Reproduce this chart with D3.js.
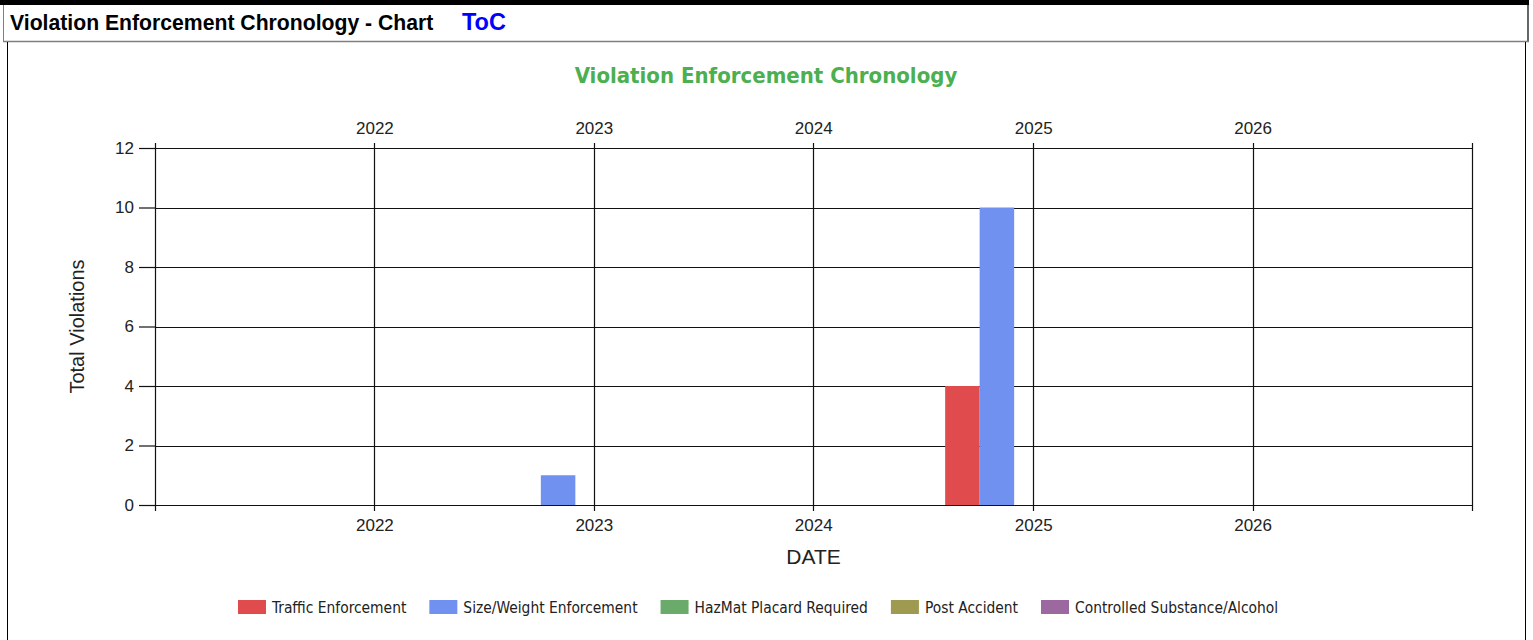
<!DOCTYPE html>
<html>
<head>
<meta charset="utf-8">
<script src="https://cdn.jsdelivr.net/npm/d3@7"></script>
<style>
  body { margin: 0; background: white; }
  svg { display: block; }
</style>
</head>
<body>
<div id="chart"></div>
<script>
// Chart data
const groupDates = ["2022-12-30", "2024-12-29"];
const seriesNames = ["Traffic Enforcement", "Size/Weight Enforcement", "HazMat Placard Required", "Post Accident", "Controlled Substance/Alcohol"];
const trafficEnforcement = [0, 4];
const sizeWeightEnforcement = [1, 10];
const hazmatPlacard = [0, 0];
const postAccident = [0, 0];
const controlledSubstance = [0, 0];
const seriesColors = ["#e04c4e", "#7091f0", "#6aaa6a", "#9e9a50", "#9b69a0"];
const yearTicks = [2022, 2023, 2024, 2025, 2026];
const yTicks = [0, 2, 4, 6, 8, 10, 12];

const W = 1533, H = 640;
const margin = { left: 155, right: 1472, top: 148, bottom: 505 };

const svg = d3.select("#chart").append("svg")
    .attr("width", W)
    .attr("height", H);

// Page header (section title bar)
svg.append("rect").attr("x", 0).attr("y", 0).attr("width", 1529).attr("height", 5).attr("fill", "black");
svg.append("line").attr("x1", 3.5).attr("x2", 3.5).attr("y1", 5).attr("y2", 42).attr("stroke", "#808080");
svg.append("line").attr("x1", 1528).attr("x2", 1528).attr("y1", 5).attr("y2", 42).attr("stroke", "#666").attr("stroke-width", 2);
svg.append("line").attr("x1", 3).attr("x2", 1529).attr("y1", 41.5).attr("y2", 41.5).attr("stroke", "#808080").attr("stroke-width", 1.5);
svg.append("text")
    .attr("x", 10).attr("y", 30)
    .style("font-family", "'Liberation Sans', Arial, sans-serif")
    .style("font-weight", "bold")
    .style("font-size", "21.2px")
    .attr("fill", "black")
    .text("Violation Enforcement Chronology - Chart");
svg.append("text")
    .attr("x", 462).attr("y", 30)
    .style("font-family", "'Liberation Sans', Arial, sans-serif")
    .style("font-weight", "bold")
    .style("font-size", "23.5px")
    .attr("fill", "#0000ff")
    .text("ToC");

// Chart box borders
svg.append("line").attr("x1", 7.5).attr("x2", 7.5).attr("y1", 42).attr("y2", H).attr("stroke", "black");
svg.append("line").attr("x1", 1525.5).attr("x2", 1525.5).attr("y1", 42).attr("y2", H).attr("stroke", "black");

// Chart title
svg.append("text")
    .attr("x", 766).attr("y", 83)
    .attr("text-anchor", "middle")
    .style("font-family", "'DejaVu Sans Condensed', 'DejaVu Sans', sans-serif")
    .style("font-stretch", "condensed")
    .style("font-weight", "bold")
    .style("font-size", "22px")
    .attr("fill", "#4caf50")
    .text("Violation Enforcement Chronology");

// Scales
const parseDate = d3.timeParse("%Y-%m-%d");
const x = d3.scaleTime()
    .domain([new Date(2021, 0, 1), new Date(2027, 0, 1)])
    .range([margin.left, margin.right]);

const y = d3.scaleLinear()
    .domain([0, 12])
    .range([margin.bottom, margin.top]);

const groupWidth = 172.5;
const xSeries = d3.scaleBand()
    .domain(seriesNames)
    .range([-groupWidth / 2, groupWidth / 2]);

const yearDates = yearTicks.map(yr => new Date(yr, 0, 1));
const fontAxis = "'Liberation Sans', Arial, sans-serif";

// Horizontal grid lines
svg.append("g")
    .selectAll("line")
    .data(yTicks)
    .enter()
    .append("line")
    .attr("x1", margin.left)
    .attr("x2", margin.right)
    .attr("y1", d => Math.round(y(d)) + 0.5)
    .attr("y2", d => Math.round(y(d)) + 0.5)
    .attr("stroke", "#111")
    .attr("stroke-width", 1.2);

// Vertical grid lines at years
svg.append("g")
    .selectAll("line")
    .data(yearDates)
    .enter()
    .append("line")
    .attr("x1", d => Math.round(x(d)) + 0.5)
    .attr("x2", d => Math.round(x(d)) + 0.5)
    .attr("y1", margin.top - 5)
    .attr("y2", margin.bottom + 6)
    .attr("stroke", "#111")
    .attr("stroke-width", 1.2);

// Left and right frame lines
[margin.left, margin.right].forEach(px => {
    svg.append("line")
        .attr("x1", px + 0.5).attr("x2", px + 0.5)
        .attr("y1", margin.top - 5).attr("y2", margin.bottom + 6)
        .attr("stroke", "#111")
        .attr("stroke-width", 1.2);
});

// Bars
const seriesValues = [trafficEnforcement, sizeWeightEnforcement, hazmatPlacard, postAccident, controlledSubstance];
const barData = [];
groupDates.forEach((ds, i) => {
    seriesNames.forEach((name, s) => {
        barData.push({ date: parseDate(ds), series: name, value: seriesValues[s][i], color: seriesColors[s] });
    });
});

svg.append("g")
    .selectAll("rect")
    .data(barData.filter(d => d.value > 0))
    .enter()
    .append("rect")
    .attr("x", d => x(d.date) + xSeries(d.series))
    .attr("y", d => y(d.value))
    .attr("width", xSeries.bandwidth())
    .attr("height", d => y(0) - y(d.value))
    .attr("fill", d => d.color);

// Y axis
svg.append("g")
    .attr("transform", `translate(${margin.left},0)`)
    .call(d3.axisLeft(y).tickValues(yTicks).tickSize(16).tickPadding(5))
    .call(g => g.select(".domain").remove())
    .call(g => g.selectAll(".tick line").attr("stroke", "#111").attr("stroke-width", 1.2))
    .call(g => g.selectAll(".tick text")
        .attr("fill", "#222")
        .style("font-family", fontAxis)
        .style("font-size", "17px"));

// Top axis labels
svg.append("g")
    .attr("transform", `translate(0,${margin.top})`)
    .call(d3.axisTop(x).tickValues(yearDates).tickFormat(d3.timeFormat("%Y")).tickSize(0).tickPadding(14))
    .call(g => g.select(".domain").remove())
    .call(g => g.selectAll(".tick text")
        .attr("fill", "#222")
        .style("font-family", fontAxis)
        .style("font-size", "17px"));

// Bottom axis labels
svg.append("g")
    .attr("transform", `translate(0,${margin.bottom})`)
    .call(d3.axisBottom(x).tickValues(yearDates).tickFormat(d3.timeFormat("%Y")).tickSize(0).tickPadding(14))
    .call(g => g.select(".domain").remove())
    .call(g => g.selectAll(".tick text")
        .attr("fill", "#222")
        .style("font-family", fontAxis)
        .style("font-size", "17px"));

// Axis titles
svg.append("text")
    .attr("transform", `translate(84,${(margin.top + margin.bottom) / 2}) rotate(-90)`)
    .attr("text-anchor", "middle")
    .style("font-family", fontAxis)
    .style("font-size", "20px")
    .attr("fill", "#222")
    .text("Total Violations");

svg.append("text")
    .attr("x", (margin.left + margin.right) / 2)
    .attr("y", 564)
    .attr("text-anchor", "middle")
    .style("font-family", fontAxis)
    .style("font-size", "21px")
    .attr("fill", "#222")
    .text("DATE");

// Legend, centred under the chart
const legend = svg.append("g");
const items = legend.selectAll("g")
    .data(seriesNames)
    .enter()
    .append("g");

items.append("rect")
    .attr("width", 28)
    .attr("height", 14)
    .attr("y", 600)
    .attr("fill", (d, i) => seriesColors[i]);

items.append("text")
    .attr("x", 34)
    .attr("y", 613)
    .style("font-family", "'DejaVu Sans Condensed', 'DejaVu Sans', sans-serif")
    .style("font-stretch", "condensed")
    .style("font-size", "15.4px")
    .attr("fill", "#222")
    .text(d => d);

let cursor = 0;
items.each(function() {
    const w = 34 + d3.select(this).select("text").node().getComputedTextLength();
    d3.select(this).attr("transform", `translate(${cursor},0)`);
    cursor += w + 23;
});
const legendWidth = cursor - 23;
legend.attr("transform", `translate(${Math.round(758 - legendWidth / 2)},0)`);
</script>
</body>
</html>
